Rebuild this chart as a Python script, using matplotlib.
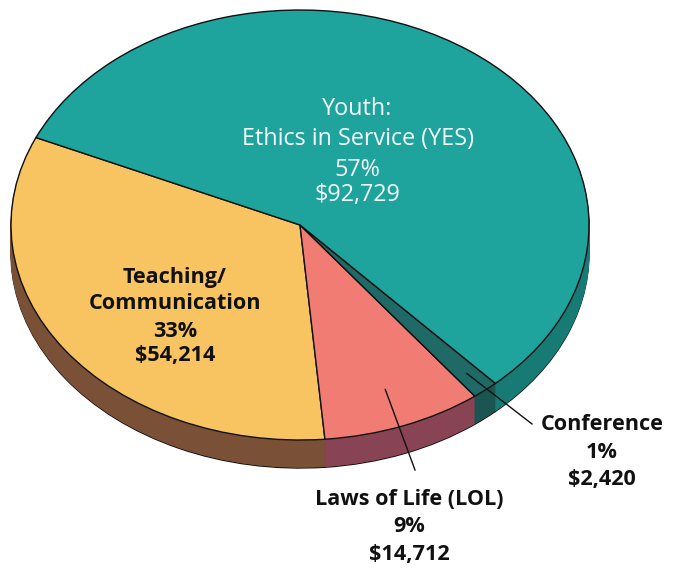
import matplotlib
matplotlib.use('Agg')
import matplotlib.pyplot as plt
import numpy as np

# ---- data ----
categories = ["Teaching/\nCommunication", "Laws of Life (LOL)", "Conference",
              "Youth:\nEthics in Service (YES)"]
amounts = [54214, 14712, 2420, 92729]
percents = [33, 9, 1, 57]
amount_labels = ["$54,214", "$14,712", "$2,420", "$92,729"]

top_colors = ['#f8c462', '#f07c74', '#1f6a66', '#1ea39d']
side_colors = ['#7a5036', '#884455', '#1b5551', '#187a74']

W, H = 676, 571
fig = plt.figure(figsize=(W / 100, H / 100), dpi=100)
ax = fig.add_axes([0, 0, 1, 1])

# ellipse geometry in pixels (center x, center y from top, radii)
CX, CY, RX, RY = 300, 225, 289, 215
DEPTH = 28 / RY
START = 156.0

def px(x, y):
    """pixel (from top-left) -> data coords"""
    return ((x - CX) / RX, (CY - y) / RY)

# side walls: stacked pies
N = 40
for k in range(N, 0, -1):
    off = -DEPTH * k / N
    if k == N:
        wp = dict(linewidth=1.0, edgecolor='#111111')
    else:
        wp = dict(linewidth=0.6)
    ws, _ = ax.pie(amounts, colors=side_colors, startangle=START, center=(0, off),
                   radius=1, wedgeprops=wp, frame=True)
    if k != N:
        for w in ws:
            w.set_edgecolor(w.get_facecolor())

wedges, _ = ax.pie(amounts, colors=top_colors, startangle=START, radius=1,
                   wedgeprops=dict(linewidth=1.0, edgecolor='#111111'), frame=True)

ax.set_aspect('auto')
ax.set_xlim(-CX / RX, (W - CX) / RX)
ax.set_ylim((CY - H) / RY, CY / RY)
ax.axis('off')

FONT = 'Open Sans'

def lines(x, ys, texts, **kw):
    for y, t in zip(ys, texts):
        tx, ty = px(x, y)
        ax.text(tx, ty, t, ha='center', va='baseline', family=FONT, **kw)

# Youth label (inside, white)
lines(357.5, [115, 145, 176, 201],
      ["Youth:", "Ethics in Service (YES)", f"{percents[3]}%", amount_labels[3]],
      color='#f4fafa', fontsize=16.8)

# Teaching label (inside, bold)
lines(175, [283, 309, 337, 361],
      ["Teaching/", "Communication", f"{percents[0]}%", amount_labels[0]],
      color='#111111', fontsize=15.6, fontweight='bold')

# Laws of Life label (outside)
lines(409, [505, 532, 560],
      ["Laws of Life (LOL)", f"{percents[1]}%", amount_labels[1]],
      color='#111111', fontsize=15.6, fontweight='bold')

# Conference label (outside)
lines(602, [430, 458, 485],
      ["Conference", f"{percents[2]}%", amount_labels[2]],
      color='#111111', fontsize=15.6, fontweight='bold')

# leader lines from wedge mid angles
def mid(w, r):
    a = np.deg2rad((w.theta1 + w.theta2) / 2)
    return r * np.cos(a), r * np.sin(a)

x0, y0 = mid(wedges[1], 0.82)
ax.plot([x0, px(415, 470)[0]], [y0, px(415, 470)[1]], color='#111111', lw=1)
x0, y0 = mid(wedges[2], 0.9)
ax.plot([x0, px(532, 424)[0]], [y0, px(532, 424)[1]], color='#111111', lw=1)

fig.savefig('out.png', dpi=100)
